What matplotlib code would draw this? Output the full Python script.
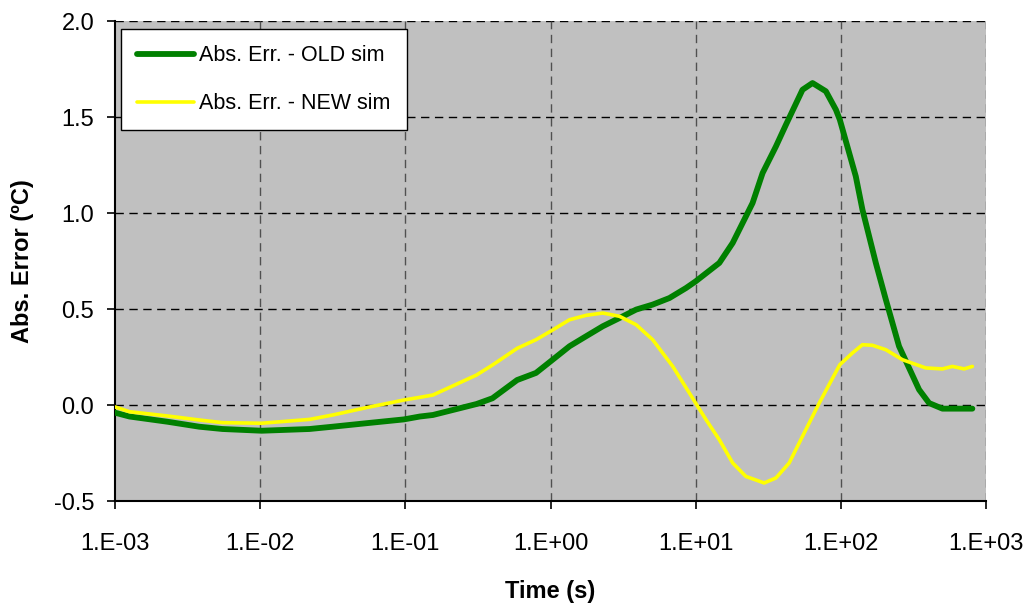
import numpy as np
import matplotlib
matplotlib.use("Agg")
import matplotlib.pyplot as plt
from matplotlib.ticker import FixedLocator, NullLocator

plt.rcParams['font.family'] = ['Liberation Sans', 'DejaVu Sans']

# ---- data ----
old_log_t = [-3.0, -2.9, -2.64, -2.42, -2.26, -1.99, -1.66, -1.5, -1.27, -1.01, -0.9, -0.81,
             -0.51, -0.4, -0.23, -0.1, 0.0, 0.131, 0.245, 0.36, 0.475, 0.59, 0.704, 0.819,
             0.933, 1.0, 1.163, 1.255, 1.392, 1.461, 1.553, 1.622, 1.736, 1.805, 1.897, 1.966,
             1.993, 2.103, 2.149, 2.241, 2.31, 2.401, 2.539, 2.608, 2.7, 2.906]
old_err = [-0.04, -0.06, -0.087, -0.113, -0.125, -0.134, -0.125, -0.113, -0.095, -0.075, -0.06, -0.052,
           0.005, 0.035, 0.13, 0.167, 0.227, 0.306, 0.358, 0.41, 0.453, 0.497, 0.523, 0.557,
           0.609, 0.644, 0.74, 0.844, 1.052, 1.208, 1.347, 1.46, 1.642, 1.677, 1.634, 1.538,
           1.486, 1.191, 1.017, 0.74, 0.549, 0.306, 0.08, 0.01, -0.019, -0.019]

new_log_t = [-3.0, -2.9, -2.64, -2.42, -2.26, -1.99, -1.66, -1.5, -1.27, -1.01, -0.9, -0.81,
             -0.51, -0.4, -0.23, -0.1, 0.0, 0.131, 0.245, 0.36, 0.475, 0.59, 0.704, 0.842,
             1.0, 1.071, 1.163, 1.255, 1.346, 1.472, 1.553, 1.644, 1.736, 1.851, 1.993, 2.08,
             2.149, 2.218, 2.31, 2.424, 2.585, 2.7, 2.768, 2.849, 2.906]
new_err = [-0.01, -0.035, -0.057, -0.078, -0.092, -0.095, -0.075, -0.052, -0.014, 0.026, 0.04, 0.052,
           0.156, 0.208, 0.295, 0.34, 0.384, 0.444, 0.467, 0.479, 0.462, 0.418, 0.34, 0.201,
           0.01, -0.076, -0.181, -0.302, -0.372, -0.406, -0.38, -0.302, -0.163, 0.01, 0.21, 0.271,
           0.314, 0.311, 0.288, 0.236, 0.193, 0.188, 0.201, 0.188, 0.201]

x_ticks = [1e-3, 1e-2, 1e-1, 1e0, 1e1, 1e2, 1e3]
x_tick_labels = ["1.E-03", "1.E-02", "1.E-01", "1.E+00", "1.E+01", "1.E+02", "1.E+03"]
y_ticks = [-0.5, 0.0, 0.5, 1.0, 1.5, 2.0]
y_tick_labels = ["-0.5", "0.0", "0.5", "1.0", "1.5", "2.0"]

old_t = 10.0 ** np.array(old_log_t)
new_t = 10.0 ** np.array(new_log_t)

# ---- figure ----
fig = plt.figure(figsize=(10.34, 6.08), dpi=100)
ax = fig.add_axes([115/1034, 1 - 501/608, 871/1034, 480/608])
ax.set_facecolor('#C0C0C0')

ax.plot(old_t, old_err, color='#008000', lw=4.2, solid_capstyle='round',
        solid_joinstyle='round', label='Abs. Err. - OLD sim', zorder=3)
ax.plot(new_t, new_err, color='#FFFF00', lw=2.6, solid_capstyle='round',
        solid_joinstyle='round', label='Abs. Err. - NEW sim', zorder=4)

ax.set_xscale('log')
ax.set_xlim(1e-3, 1e3)
ax.set_ylim(-0.5, 2.0)
ax.xaxis.set_major_locator(FixedLocator(x_ticks))
ax.xaxis.set_minor_locator(NullLocator())
ax.set_xticklabels(x_tick_labels)
ax.set_yticks(y_ticks)
ax.set_yticklabels(y_tick_labels)

for y in y_ticks[1:]:
    ax.axhline(y, color='black', lw=1.0, ls=(0, (6, 4)), zorder=1)
for x in x_ticks[1:]:
    ax.axvline(x, color='#505050', lw=1.0, ls=(0, (6, 4)), zorder=1)

for s in ['top', 'right']:
    ax.spines[s].set_visible(False)
for s in ['left', 'bottom']:
    ax.spines[s].set_color('black')
    ax.spines[s].set_linewidth(1.5)

ax.tick_params(axis='both', direction='out', length=6, width=1.2, colors='black',
               labelsize=17)
ax.tick_params(axis='y', pad=9)
ax.tick_params(axis='x', pad=17)

ax.set_xlabel('Time (s)', fontsize=17, fontweight='bold', labelpad=18)
ax.set_ylabel('Abs. Error (ºC)', fontsize=17, fontweight='bold', labelpad=14)

leg = ax.legend(loc='upper left', bbox_to_anchor=(0.0065, 0.983), borderaxespad=0,
                fontsize=15.5, handlelength=2.65, handletextpad=0.25, labelspacing=1.25,
                borderpad=0.75, fancybox=False, framealpha=1, edgecolor='black')
leg.get_frame().set_linewidth(1.0)

fig.savefig('out.png', dpi=100, facecolor='white')
